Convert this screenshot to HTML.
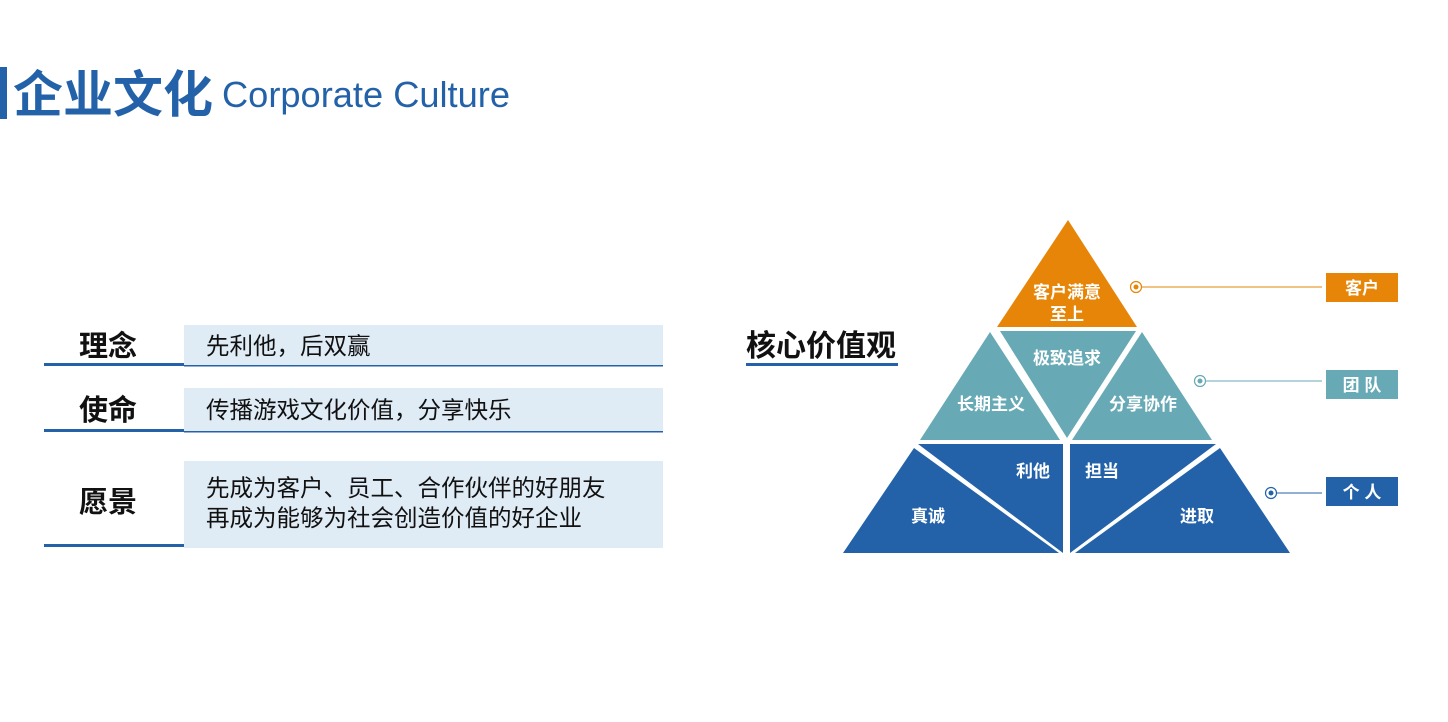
<!DOCTYPE html>
<html><head><meta charset="utf-8"><style>
body{margin:0;background:#fff;}
svg{display:block;}
text{font-family:"Liberation Sans","Noto Sans CJK SC",sans-serif;}
</style></head><body>
<svg width="1448" height="722" viewBox="0 0 1448 722" xmlns="http://www.w3.org/2000/svg">
<rect x="0" y="67" width="7" height="52" fill="#2362a8"/>
<text x="13" y="112" font-size="50" font-weight="bold" fill="#2362a8">企业文化</text>
<text x="222" y="107" font-size="36" fill="#2362a8" textLength="288" lengthAdjust="spacingAndGlyphs">Corporate Culture</text>

<rect x="184" y="325" width="479" height="41" fill="#dfebf5"/>
<rect x="184" y="365" width="479" height="1.5" fill="#2362a8"/>
<rect x="44" y="363" width="140" height="3" fill="#2362a8"/>
<text x="79" y="356" font-size="29" font-weight="bold" fill="#111">理念</text>
<text x="206" y="354" font-size="23.5" fill="#111">先利他，后双赢</text>

<rect x="184" y="388" width="479" height="44" fill="#dfebf5"/>
<rect x="184" y="431" width="479" height="1.5" fill="#2362a8"/>
<rect x="44" y="429" width="140" height="3" fill="#2362a8"/>
<text x="79" y="420" font-size="29" font-weight="bold" fill="#111">使命</text>
<text x="206" y="418" font-size="23.5" fill="#111">传播游戏文化价值，分享快乐</text>

<rect x="184" y="461" width="479" height="87" fill="#dfebf5"/>
<rect x="44" y="544" width="140" height="3" fill="#2362a8"/>
<text x="79" y="512" font-size="29" font-weight="bold" fill="#111">愿景</text>
<text x="206" y="496" font-size="23.5" fill="#111">先成为客户、员工、合作伙伴的好朋友</text>
<text x="206" y="526" font-size="23.5" fill="#111">再成为能够为社会创造价值的好企业</text>

<text x="746" y="356" font-size="30" font-weight="bold" fill="#111">核心价值观</text>
<rect x="746" y="363" width="152" height="3" fill="#2362a8"/>

<polygon points="1068,220 1137,327 997,327" fill="#e68507"/>
<polygon points="990,332 1060,440 920,440" fill="#67a9b5"/>
<polygon points="1000,331 1136,331 1067,438" fill="#67a9b5"/>
<polygon points="1142,332 1212,440 1072,440" fill="#67a9b5"/>
<polygon points="918,444 1063,444 1063,553" fill="#2362a8"/>
<polygon points="914,448 1059,553 843,553" fill="#2362a8"/>
<polygon points="1070,444 1216,444 1070,553" fill="#2362a8"/>
<polygon points="1220,448 1290,553 1075,553" fill="#2362a8"/>

<g font-size="17" font-weight="bold" fill="#fff" text-anchor="middle">
<text x="1067" y="298">客户满意</text>
<text x="1067" y="320">至上</text>
<text x="1067" y="364">极致追求</text>
<text x="991" y="410">长期主义</text>
<text x="1143" y="410">分享协作</text>
<text x="1033" y="477">利他</text>
<text x="1102" y="477">担当</text>
<text x="928" y="522">真诚</text>
<text x="1197" y="522">进取</text>
</g>

<line x1="1141" y1="287" x2="1322" y2="287" stroke="#e68507" stroke-width="1"/>
<circle cx="1136" cy="287" r="5.5" fill="#fff" stroke="#e68507" stroke-width="1.2"/>
<circle cx="1136" cy="287" r="2.5" fill="#e68507"/>
<rect x="1326" y="273" width="72" height="29" fill="#e68507"/>
<text x="1362" y="294" font-size="17" font-weight="bold" fill="#fff" text-anchor="middle">客户</text>

<line x1="1205" y1="381" x2="1322" y2="381" stroke="#67a9b5" stroke-width="1"/>
<circle cx="1200" cy="381" r="5.5" fill="#fff" stroke="#67a9b5" stroke-width="1.2"/>
<circle cx="1200" cy="381" r="2.5" fill="#67a9b5"/>
<rect x="1326" y="370" width="72" height="29" fill="#67a9b5"/>
<text x="1362" y="391" font-size="17" font-weight="bold" fill="#fff" text-anchor="middle">团 队</text>

<line x1="1276" y1="493" x2="1322" y2="493" stroke="#2362a8" stroke-width="1"/>
<circle cx="1271" cy="493" r="5.5" fill="#fff" stroke="#2362a8" stroke-width="1.2"/>
<circle cx="1271" cy="493" r="2.5" fill="#2362a8"/>
<rect x="1326" y="477" width="72" height="29" fill="#2362a8"/>
<text x="1362" y="498" font-size="17" font-weight="bold" fill="#fff" text-anchor="middle">个 人</text>
</svg>
</body></html>
